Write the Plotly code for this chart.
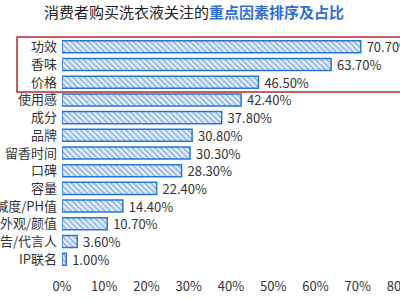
import plotly.graph_objects as go

categories = ["功效", "香味", "价格", "使用感", "成分", "品牌", "留香时间", "口碑", "容量",
              "碱度/PH值", "外观/颜值", "广告/代言人", "IP联名"]
values = [70.7, 63.7, 46.5, 42.4, 37.8, 30.8, 30.3, 28.3, 22.4, 14.4, 10.7, 3.6, 1.0]
x_ticks = [0, 10, 20, 30, 40, 50, 60, 70, 80]
x_tick_labels = [f"{t}%" for t in x_ticks]

FONT = "Noto Sans CJK SC, Microsoft YaHei, sans-serif"
BLUE = "#2b74d6"

fig = go.Figure(go.Bar(
    y=categories,
    x=values,
    orientation="h",
    width=0.68,
    marker=dict(
        color="white",
        line=dict(color=BLUE, width=1.5),
        pattern=dict(shape="\\", fgcolor=BLUE, bgcolor="#eaf2fc", size=4, solidity=0.45),
    ),
    text=[f" {v:.2f}%" for v in values],
    textposition="outside",
    constraintext="none",
    textfont=dict(family=FONT, size=13, color="#333333"),
    cliponaxis=False,
))

W, H = 400, 300
ml, mr, mt, mb = 62, 0, 38, 32
pw, ph = W - ml - mr, H - mt - mb

def px_to_paper_x(px):
    return (px - ml) / pw

def px_to_paper_y(py):
    return (H - mb - py) / ph

fig.add_shape(type="rect", xref="paper", yref="paper",
              x0=px_to_paper_x(17), x1=px_to_paper_x(402),
              y0=px_to_paper_y(92), y1=px_to_paper_y(37),
              line=dict(color="#b22a2a", width=1.5), fillcolor="rgba(0,0,0,0)")

fig.update_layout(
    width=W, height=H,
    margin=dict(l=ml, r=mr, t=mt, b=mb, autoexpand=False),
    paper_bgcolor="white", plot_bgcolor="white",
    showlegend=False,
    title=dict(
        text="消费者购买洗衣液关注的<b><span style='color:#2f6fd6'>重点因素排序及占比</span></b>",
        x=0.485, xanchor="center", y=1 - 13 / H, yanchor="middle",
        font=dict(family=FONT, size=15, color="#222222"),
    ),
    font=dict(family=FONT, size=12, color="#333333"),
)
fig.update_xaxes(range=[0, 80], tickvals=x_ticks, ticktext=x_tick_labels,
                 showgrid=False, zeroline=False, showline=False, ticks="",
                 ticklabeloverflow="allow", ticklabelstandoff=9,
                 tickfont=dict(family=FONT, size=13, color="#333333"), automargin=False)
fig.update_yaxes(autorange="reversed", showgrid=False, showline=False, ticks="",
                 ticklabelstandoff=4,
                 tickfont=dict(family=FONT, size=13, color="#333333"), automargin=False)

fig.write_html("out.html")
